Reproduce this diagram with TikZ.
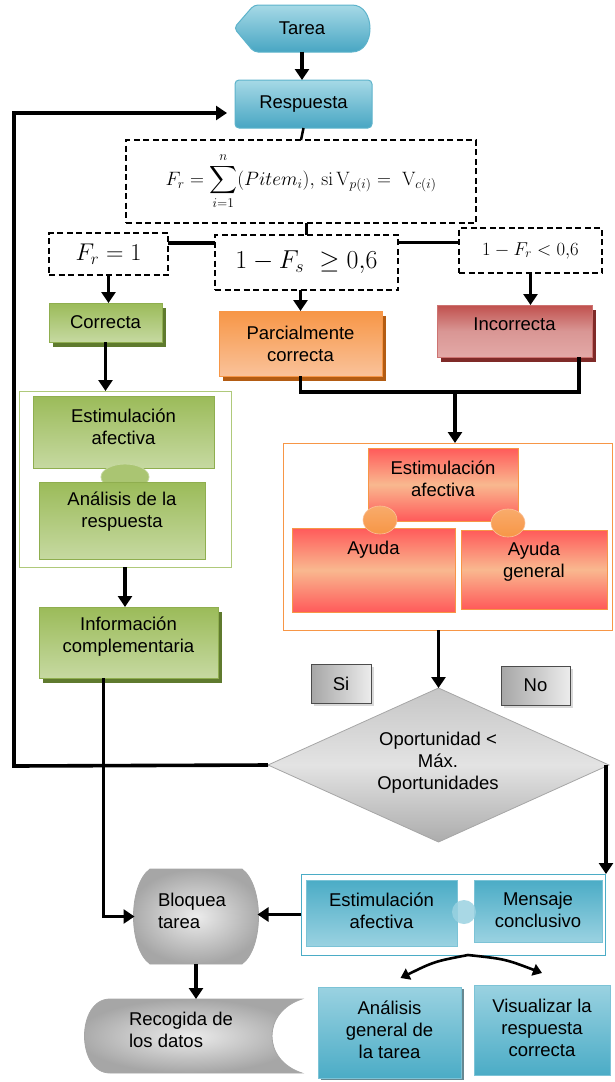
\documentclass[tikz,border=0pt]{standalone}
\usepackage[no-math]{fontspec}
\setmainfont{Liberation Sans}
\usepackage{amsmath}
\usepackage{graphicx}
\usetikzlibrary{arrows.meta,shadows,shapes.geometric,calc}
\definecolor{tealtop}{HTML}{A6D9E6}
\definecolor{tealbot}{HTML}{48A6C3}
\definecolor{tealdraw}{HTML}{5DB3CB}
\definecolor{grntop}{HTML}{9BBB59}
\definecolor{grnbot}{HTML}{C6D9A1}
\definecolor{grndraw}{HTML}{8FAE4F}
\definecolor{grnshad}{HTML}{5F7A2E}
\definecolor{orgtop}{HTML}{F79646}
\definecolor{orgbot}{HTML}{FAC29A}
\definecolor{orgshad}{HTML}{B35C13}
\definecolor{redtop}{HTML}{C0504D}
\definecolor{redmid}{HTML}{D99694}
\definecolor{redbot}{HTML}{E3A9A7}
\definecolor{redshad}{HTML}{7F2A28}
\definecolor{rotop}{HTML}{FF5A5A}
\definecolor{romid}{HTML}{F9B88F}
\definecolor{blutop}{HTML}{4BACC6}
\definecolor{blubot}{HTML}{9AD2E1}
\definecolor{bludraw}{HTML}{7CC3D6}
\begin{document}
\begin{tikzpicture}[x=1pt,y=-1pt,
  font=\fontsize{18.5}{22}\selectfont,
  every node/.style={inner sep=0pt, outer sep=0pt},
  txt/.style={align=center},
  conn/.style={line width=3.6pt},
  arr/.style={line width=3.6pt, -{Triangle[length=11pt,width=14pt]}},
  arrtwo/.style={line width=2.6pt, -{Triangle[length=9pt,width=12pt]}},
  dbox/.style={draw, line width=1.2pt, dash pattern=on 6pt off 3.5pt},
  tealbox/.style={draw=tealdraw, line width=1pt, top color=tealtop, bottom color=tealbot, rounded corners=4pt},
  grnbox/.style={draw=grndraw, line width=1pt, top color=grntop, bottom color=grnbot},
  grnshadow/.style={drop shadow={shadow xshift=4pt, shadow yshift=-5pt, fill=grnshad, opacity=1}},
  orgbox/.style={draw=orgtop, line width=1pt, top color=orgtop, bottom color=orgbot},
  orgshadow/.style={drop shadow={shadow xshift=4pt, shadow yshift=-5pt, fill=orgshad, opacity=1}},
  redbox/.style={draw=redtop!80!white, line width=1pt, top color=redtop, bottom color=redbot, middle color=redmid},
  redshadow/.style={drop shadow={shadow xshift=4pt, shadow yshift=-5pt, fill=redshad, opacity=1}},
  robox/.style={draw=orgtop, line width=1pt, top color=rotop, bottom color=rotop, middle color=romid},
  blubox/.style={draw=bludraw, line width=1pt, top color=blutop, bottom color=blubot},
  blubox2/.style={draw=bludraw, line width=1pt, top color=blubot, bottom color=blutop},
  gryshape/.style={draw=gray!70, line width=0.8pt, top color=gray!45, bottom color=gray!65, middle color=gray!22},
  gryrad/.style={draw=gray!70, line width=0.8pt, inner color=gray!15, outer color=gray!70},
  grybox/.style={draw=gray!60!black, line width=0.8pt, left color=gray!70, right color=gray!15,
     drop shadow={shadow xshift=3pt, shadow yshift=-3pt, fill=gray!50, opacity=0.6}},
  frame/.style={fill=white, line width=1pt}
]
\useasboundingbox (0,0) rectangle (614,1082);

% ---------------- top ----------------
\path[tealbox] (234,28) -- (254,5) -- (348,5) .. controls (376,5) and (376,52) .. (348,52) -- (254,52) -- cycle;
\node[minimum width=136, minimum height=47] (tarea) at (302,28) {Tarea};
\node[tealbox, minimum width=137, minimum height=48] (resp) at (303.5,104) {Respuesta};

\node[dbox, minimum width=350, minimum height=83] (form) at (301,181.5)
  {\scalebox{1.12}{$\displaystyle F_r = \sum_{i=1}^{n}(Pitem_i),\, \mathrm{si}\, \mathrm{V}_{p(i)} =\ \mathrm{V}_{c(i)}$}};

\node[dbox, minimum width=119, minimum height=42] (c1) at (108.5,254)
  {\scalebox{1.4}{$F_r = 1$}};
\node[dbox, minimum width=183, minimum height=55] (c2) at (306.5,262.5)
  {\scalebox{1.5}{$1 - F_s\ \geq 0{,}6$}};
\node[dbox, minimum width=143, minimum height=45] (c3) at (530.5,250.5)
  {\scalebox{1.08}{$1 - F_r < 0{,}6$}};

\draw[line width=2.5pt] (resp.south) -- (form.north);
\draw[line width=3pt] (form.south -| c2.north) -- (c2.north);
\draw[conn] ([yshift=11pt]c1.east) -- ([yshift=11pt]c1.east -| c2.west);
\draw[conn] ([yshift=8pt]c3.west -| c2.east) -- ([yshift=8pt]c3.west);

% ---------------- result boxes ----------------
\node[grnbox, grnshadow, minimum width=113, minimum height=39] (corr) at (105.5,322.5) {Correcta};
\node[orgbox, orgshadow, minimum width=163, minimum height=65, txt] (parc) at (300.5,343.5) {Parcialmente\\correcta};
\node[redbox, redshadow, minimum width=155, minimum height=52] (inc) at (514.5,331) {};
\node (incT) at (514.5,324) {Incorrecta};

\draw[arr] (tarea.south) -- (tarea.south |- resp.north);
\draw[arr] (c1.south) -- (c1.south |- corr.north);
\draw[arr] (parc.north |- c2.south) -- (parc.north);
\draw[arr] (c3.south) -- (c3.south |- inc.north);

% ---------------- green group ----------------
\node[frame, draw=grntop!80!white, minimum width=212, minimum height=176] (gcont) at (125,479) {};
\node[grnbox, minimum width=181, minimum height=72] (gest) at (123.5,432) {};
\node[txt] (gestT) at (123.5,426.5) {Estimulación\\afectiva};
\node[ellipse, fill=grntop!85!white, draw=grnbot, line width=0.8pt, minimum width=48, minimum height=26] (goval) at (125,477) {};
\node[grnbox, minimum width=166, minimum height=77] (gana) at (122,520.5) {};
\node[txt] (ganaT) at (122,512) {Análisis de la\\respuesta};
\node[grnbox, grnshadow, minimum width=179, minimum height=71] (info) at (128.5,642.5) {};
\node[txt] (infoT) at (128.5,637) {Información\\complementaria};

\draw[arr] (corr.south) -- (corr.south |- gcont.north);
\draw[arr] (gcont.south) -- (gcont.south |- info.north);

% ---------------- orange group ----------------
\coordinate (mj) at (455,392);
\draw[conn] (parc.south) |- (mj) -| ([xshift=64.5pt]inc.south);
\node[frame, draw=orgtop, minimum width=329, minimum height=187] (ocont) at (447.5,536.5) {};
\draw[arr] (mj) -- (mj |- ocont.north);
\node[robox, minimum width=150, minimum height=73] (oest) at (443,484.5) {};
\node[txt] (oestT) at (443,478.5) {Estimulación\\afectiva};
\node[robox, minimum width=163, minimum height=84] (ayuda) at (373.5,570) {};
\node (ayudaT) at (373.5,550) {Ayuda};
\node[robox, minimum width=146, minimum height=79] (ayg) at (534,569.5) {};
\node[txt] (aygT) at (534,562) {Ayuda\\general};
\node[ellipse, top color=orgtop!80!white, bottom color=orgtop, draw=orgbot, line width=0.6pt, minimum width=34, minimum height=28] (ov1) at (380,520) {};
\node[ellipse, top color=orgtop!80!white, bottom color=orgtop, draw=orgbot, line width=0.6pt, minimum width=34, minimum height=28] (ov2) at (508,523) {};

% ---------------- decision ----------------
\node[grybox, minimum width=60, minimum height=39] (si) at (341,683.5) {Si};
\node[grybox, minimum width=69, minimum height=39] (no) at (535.5,685.5) {No};
\node[diamond, gryshape, aspect=2.2, minimum width=341, minimum height=154] (diam) at (438.5,765) {};
\node[txt] (diamT) at (438,763) {Oportunidad <\\Máx.\\Oportunidades};
\draw[arr] (ocont.south -| diam.north) -- (diam.north);

\coordinate (loopc) at (14,766);
\draw[arr, shorten >=8pt] (diam.west) -- (loopc) |- ([yshift=-9pt]resp.west);

% ---------------- blue group ----------------
\node[frame, draw=blutop, minimum width=304, minimum height=81] (bcont) at (453,914.5) {};
\node[blubox, minimum width=151, minimum height=66] (best) at (381.5,913) {};
\node[txt] (bestT) at (381.5,910.5) {Estimulación\\afectiva};
\node[blubox, minimum width=128, minimum height=62] (bmen) at (538,911) {};
\node[txt] (bmenT) at (538,910) {Mensaje\\conclusivo};
\node[circle, fill=blubot, opacity=0.85, minimum size=24] (bov) at (464,912) {};

\draw[arr] ([xshift=-3pt]diam.east) -- ([xshift=-3pt]diam.east |- bcont.north);

% ---------------- grey shapes ----------------
\path[gryrad] (150,869) -- (242,869) .. controls (264,885) and (264,948) .. (242,964)
  -- (150,964) .. controls (128,948) and (128,885) .. (150,869) -- cycle;
\node[minimum width=123, minimum height=95] (bloq) at (196,916.5) {};
\node[anchor=west, align=left] (bloqT) at (158,911) {Bloquea\\tarea};

\path[gryrad] (110,999) -- (302,999) .. controls (262,1012) and (262,1060) .. (302,1073)
  -- (110,1073) .. controls (76,1073) and (76,999) .. (110,999) -- cycle;
\node[minimum width=220, minimum height=74] (recog) at (192,1036) {};
\node[anchor=west, align=left] (recogT) at (129,1030) {Recogida de\\los datos};

\draw[arr] (bcont.west) -- (bcont.west -| bloq.east);
\draw[arr] ([xshift=-25pt]info.south) |- (bloq.west);
\draw[arr] (bloq.south) -- (bloq.south |- recog.north);

% ---------------- final boxes ----------------
\node[blubox2, drop shadow={shadow xshift=3pt, shadow yshift=-2pt, fill=blutop!50!black, opacity=0.7}, minimum width=143, minimum height=91] (ana) at (389.5,1032.5) {};
\node[txt] (anaT) at (389.5,1030) {Análisis\\general de\\la tarea};
\node[blubox2, minimum width=136, minimum height=90] (vis) at (542,1030) {};
\node[txt] (visT) at (542,1028) {Visualizar la\\respuesta\\correcta};

\coordinate (fork) at ([xshift=15pt]bcont.south);
\coordinate (fa) at ([xshift=11pt,yshift=9pt]ana.north);
\coordinate (fv) at ([yshift=12pt]vis.north);
\draw[arrtwo] (fork) .. controls ($(fork)!0.5!(fa)+(0,-5)$) .. (fa);
\draw[arrtwo] (fork) .. controls ($(fork)!0.5!(fv)+(0,-5)$) .. (fv);
\end{tikzpicture}
\end{document}
